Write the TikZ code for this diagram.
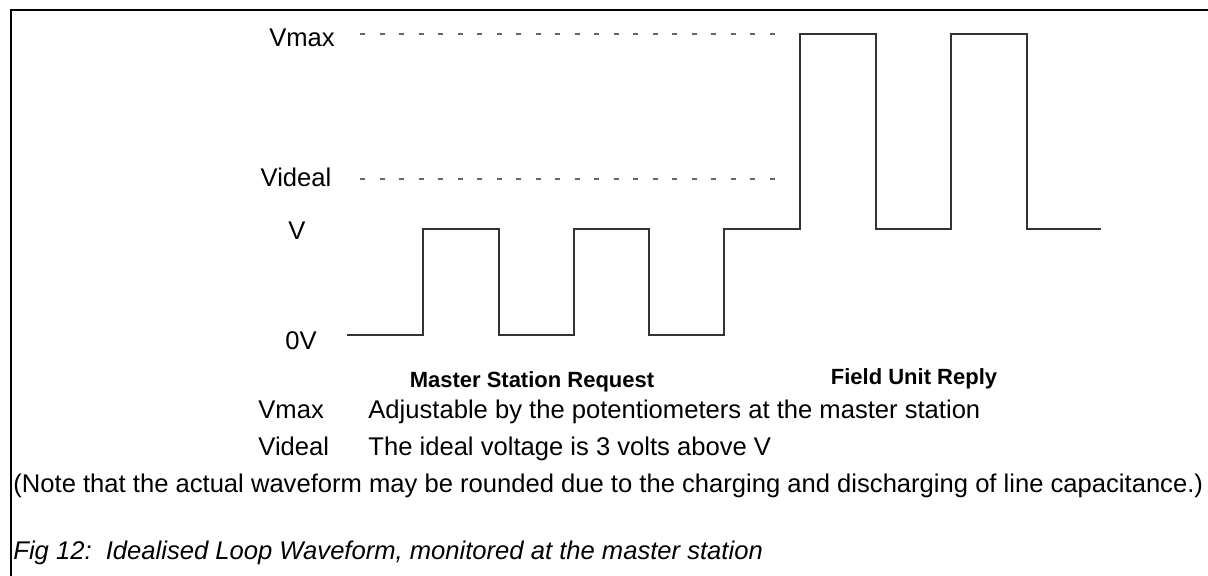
\documentclass[tikz,border=0pt]{standalone}
\usepackage{fontspec}
\setmainfont{Liberation Sans}
\begin{document}
\begin{tikzpicture}[x=0.5pt,y=-0.5pt,
  lbl/.style={inner sep=0pt,font=\fontsize{12.8pt}{15pt}\selectfont},
  blbl/.style={inner sep=0pt,font=\fontsize{11pt}{13pt}\selectfont\bfseries},
  wave/.style={line width=0.6pt,black!80},
  guide/.style={line width=0.6pt,black!60,dash pattern=on 2.5pt off 7.25pt},
  frame/.style={line width=1pt,black}]
\useasboundingbox (0,0) rectangle (1208,576);
% frame
\coordinate (fbl) at (11,576);
\coordinate (ftl) at (11,10);
\coordinate (ftr) at (1208,10);
\draw[frame] (fbl) -- (ftl) -- (ftr);
% level labels
\node[lbl,anchor=base] (lvmax) at (302,47) {Vmax};
\node[lbl,anchor=base] (lvideal) at (296,187) {Videal};
\node[lbl,anchor=base] (lv) at (297,240) {V};
\node[lbl,anchor=base] (l0v) at (301,350) {0V};
% dashed guides
\coordinate (gm1) at (360,34);
\coordinate (gm2) at (776,34);
\coordinate (gi1) at (360,179);
\coordinate (gi2) at (776,179);
\draw[guide] (gm1) -- (gm2);
\draw[guide] (gi1) -- (gi2);
% waveform
\coordinate (w0) at (347,335);
\draw[wave] (w0) -- (423,335) -- (423,229) -- (499,229) -- (499,335)
  -- (574,335) -- (574,229) -- (649,229) -- (649,335) -- (724,335)
  -- (724,229) -- (800,229) -- (800,34) -- (876,34) -- (876,229)
  -- (951,229) -- (951,34) -- (1027,34) -- (1027,229) -- (1101,229);
% section labels
\node[blbl] (msr) at (532,382) {Master Station Request};
\node[blbl] (fur) at (914,379) {Field Unit Reply};
% legend
\node[lbl,anchor=base west] (k1) at (258,418) {Vmax};
\node[lbl,anchor=base west] (d1) at (368,418) {Adjustable by the potentiometers at the master station};
\node[lbl,anchor=base west] (k2) at (258,455) {Videal};
\node[lbl,anchor=base west] (d2) at (368,455) {The ideal voltage is 3 volts above V};
\node[lbl,anchor=base west] (note) at (13,492) {(Note that the actual waveform may be rounded due to the charging and discharging of line capacitance.)};
\node[lbl,anchor=base west,font=\fontsize{12.8pt}{15pt}\selectfont\itshape] (fig) at (13,559) {Fig 12:\ \ Idealised Loop Waveform, monitored at the master station};
\end{tikzpicture}
\end{document}
